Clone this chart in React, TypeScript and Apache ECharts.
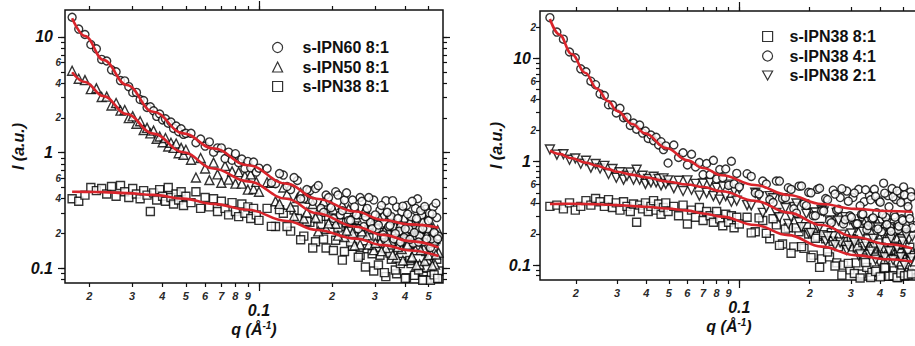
import React, { useEffect, useRef } from 'react';
import * as echarts from 'echarts';

const FONT = '"Liberation Sans", Arial, Helvetica, sans-serif';

// ---------- data: left panel (8:1 series) ----------
const LEFT_Q = [
  0.0170, 0.0181, 0.0192, 0.0203, 0.0214, 0.0225, 0.0236, 0.0247, 0.0258, 0.0269, 0.0280, 0.0291, 0.0302, 0.0313, 0.0324, 0.0335,
  0.0346, 0.0357, 0.0368, 0.0379, 0.0390, 0.0401, 0.0412, 0.0423, 0.0434, 0.0445, 0.0456, 0.0467, 0.0478, 0.0489, 0.0500,
  0.0525, 0.0550, 0.0575, 0.0600, 0.0625, 0.0650, 0.0675, 0.0700, 0.0725, 0.0750, 0.0775, 0.0800, 0.0825, 0.0850, 0.0875,
  0.0900, 0.0925, 0.0950, 0.0975, 0.1000,
  0.108, 0.117, 0.126, 0.135, 0.144, 0.153, 0.162, 0.171, 0.180, 0.189, 0.198, 0.207, 0.216, 0.225, 0.234, 0.243, 0.252,
  0.261, 0.270, 0.279, 0.288, 0.297, 0.306, 0.315, 0.324, 0.333, 0.342, 0.351, 0.360, 0.369, 0.378, 0.387, 0.396, 0.405,
  0.414, 0.423, 0.432, 0.441, 0.450, 0.459, 0.468, 0.477, 0.486, 0.495, 0.504, 0.513, 0.522, 0.531, 0.540, 0.549,
  // intermediate q points of the high-q range
  0.1125, 0.1215, 0.1305, 0.1395, 0.1485, 0.1575, 0.1665, 0.1755, 0.1845, 0.1935, 0.2025, 0.2115, 0.2205, 0.2295, 0.2385,
  0.2475, 0.2565, 0.2655, 0.2745, 0.2835, 0.2925, 0.3015, 0.3105, 0.3195, 0.3285, 0.3375, 0.3465, 0.3555, 0.3645, 0.3735,
  0.3825, 0.3915, 0.4005, 0.4095, 0.4185, 0.4275, 0.4365, 0.4455, 0.4545, 0.4635, 0.4725, 0.4815, 0.4905, 0.4995, 0.5085,
  0.5175, 0.5265, 0.5355, 0.5445,
];
const L60 = [
  14.8, 11.7, 10.5, 8.6, 7.9, 6.4, 6.2, 5.2, 5.0, 4.2, 4.17, 3.72, 3.31, 3.32, 2.88, 2.82, 2.46, 2.49, 2.30, 2.06, 2.16,
  1.92, 1.96, 1.80, 1.84, 1.62, 1.70, 1.52, 1.61, 1.44, 1.47,
  1.47, 1.22, 1.31, 1.14, 1.24, 1.01, 1.10, 1.10, 0.89, 1.01, 0.86, 0.98, 0.82, 0.88, 0.73, 0.84, 0.74, 0.83, 0.68, 0.735,
  0.73, 0.54, 0.64, 0.48, 0.575, 0.40, 0.47, 0.49, 0.33, 0.43, 0.335, 0.46, 0.29, 0.39, 0.26, 0.39, 0.29, 0.41, 0.23, 0.33,
  0.25, 0.39, 0.22, 0.32, 0.195, 0.385, 0.23, 0.28, 0.18, 0.34, 0.21, 0.31, 0.185, 0.35, 0.22, 0.28, 0.165, 0.33, 0.40, 0.19,
  0.29, 0.17, 0.325, 0.22, 0.30, 0.18, 0.34, 0.20, 0.275, 0.19,
  0.55, 0.66, 0.51, 0.61, 0.40, 0.48, 0.38, 0.52, 0.305, 0.41, 0.27, 0.43, 0.315, 0.45, 0.26, 0.34, 0.22, 0.38, 0.28, 0.41,
  0.22, 0.29, 0.237, 0.35, 0.183, 0.305, 0.235, 0.385, 0.20, 0.27, 0.169, 0.345, 0.22, 0.295, 0.178, 0.38, 0.204, 0.27,
  0.169, 0.316, 0.221, 0.343, 0.18, 0.258, 0.151, 0.296, 0.204, 0.366, 0.18,
];
const L50 = [
  5.1, 4.35, 4.24, 3.54, 3.6, 3.03, 3.05, 2.56, 2.69, 2.31, 2.34, 1.99, 2.06, 1.78, 1.87, 1.57, 1.64, 1.47, 1.55, 1.32, 1.38,
  1.23, 1.34, 1.13, 1.22, 1.10, 1.20, 0.99, 1.10, 0.96, 1.06,
  0.87, 0.61, 0.90, 0.73, 0.58, 0.82, 0.65, 0.55, 0.77, 0.585, 0.69, 0.54, 0.68, 0.54, 0.63, 0.48, 0.65, 0.485, 0.56, 0.46,
  0.555, 0.38, 0.50, 0.34, 0.405, 0.27, 0.40, 0.275, 0.345, 0.22, 0.355, 0.243, 0.295, 0.187, 0.327, 0.203, 0.276, 0.161,
  0.307, 0.193, 0.255, 0.144, 0.265, 0.167, 0.29, 0.15, 0.238, 0.173, 0.26, 0.124, 0.214, 0.147, 0.274, 0.158, 0.221, 0.123,
  0.24, 0.144, 0.199, 0.108, 0.22, 0.148, 0.256, 0.119, 0.181, 0.133, 0.225, 0.108, 0.191, 0.137,
  0.549, 0.361, 0.44, 0.284, 0.449, 0.305, 0.36, 0.209, 0.379, 0.245, 0.323, 0.192, 0.354, 0.212, 0.268, 0.158, 0.295,
  0.209, 0.326, 0.161, 0.24, 0.166, 0.283, 0.141, 0.21, 0.173, 0.293, 0.131, 0.231, 0.153, 0.245, 0.117, 0.211, 0.16,
  0.255, 0.126, 0.186, 0.107, 0.228, 0.144, 0.256, 0.116, 0.195, 0.13, 0.228, 0.106, 0.174, 0.132, 0.214,
];
const L38 = [
  0.40, 0.38, 0.43, 0.50, 0.47, 0.49, 0.44, 0.51, 0.42, 0.52, 0.46, 0.41, 0.49, 0.44, 0.40, 0.47, 0.43, 0.31, 0.45, 0.39,
  0.48, 0.42, 0.38, 0.50, 0.41, 0.36, 0.44, 0.39, 0.46, 0.35, 0.42,
  0.37, 0.46, 0.33, 0.41, 0.34, 0.40, 0.31, 0.38, 0.33, 0.29, 0.37, 0.31, 0.28, 0.36, 0.30, 0.34, 0.27, 0.33, 0.29, 0.26,
  0.33, 0.23, 0.30, 0.21, 0.27, 0.19, 0.25, 0.17, 0.24, 0.15, 0.22, 0.175, 0.23, 0.14, 0.21, 0.155, 0.22, 0.13, 0.20, 0.148,
  0.23, 0.095, 0.19, 0.13, 0.205, 0.085, 0.175, 0.12, 0.19, 0.09, 0.165, 0.115, 0.20, 0.083, 0.16, 0.11, 0.185, 0.088, 0.15,
  0.105, 0.17, 0.08, 0.14, 0.10, 0.175, 0.09, 0.145, 0.082, 0.12, 0.095,
  0.231, 0.322, 0.23, 0.32, 0.177, 0.255, 0.15, 0.268, 0.179, 0.282, 0.143, 0.224, 0.118, 0.248, 0.169, 0.262, 0.125,
  0.193, 0.103, 0.216, 0.134, 0.233, 0.107, 0.189, 0.092, 0.211, 0.136, 0.23, 0.097, 0.18, 0.11, 0.206, 0.082, 0.166,
  0.117, 0.209, 0.087, 0.172, 0.097, 0.186, 0.079, 0.159, 0.102, 0.192, 0.079, 0.165, 0.088, 0.178, 0.082,
];
const FIT_QL = [0.017, 0.0192, 0.0229, 0.0285, 0.0367, 0.0488, 0.0648, 0.09, 0.13, 0.173, 0.25, 0.325, 0.42, 0.549];
const FIT_L60 = [14.5, 10.2, 6.33, 3.85, 2.26, 1.47, 1.09, 0.78, 0.54, 0.40, 0.31, 0.262, 0.24, 0.225];
const FIT_L50 = [4.95, 4.08, 3.08, 2.16, 1.46, 1.01, 0.73, 0.565, 0.40, 0.30, 0.229, 0.195, 0.172, 0.152];
const FIT_L38 = [0.46, 0.459, 0.456, 0.447, 0.432, 0.401, 0.361, 0.321, 0.257, 0.215, 0.181, 0.159, 0.143, 0.128];

// ---------- data: right panel (s-IPN38 series) ----------
const RIGHT_Q = [
  0.0155, 0.0166, 0.0177, 0.0188, 0.0199, 0.0210, 0.0221, 0.0232, 0.0243, 0.0254, 0.0265, 0.0276, 0.0287, 0.0298, 0.0309,
  0.0320, 0.0331, 0.0342, 0.0353, 0.0364, 0.0375, 0.0386, 0.0397, 0.0408, 0.0419, 0.0430, 0.0441, 0.0452, 0.0463, 0.0474,
  0.0485, 0.0496,
  0.0525, 0.0550, 0.0575, 0.0600, 0.0625, 0.0650, 0.0675, 0.0700, 0.0725, 0.0750, 0.0775, 0.0800, 0.0825, 0.0850, 0.0875,
  0.0900, 0.0925, 0.0950, 0.0975, 0.1000,
  0.108, 0.117, 0.126, 0.135, 0.144, 0.153, 0.162, 0.171, 0.180, 0.189, 0.198, 0.207, 0.216, 0.225, 0.234, 0.243, 0.252,
  0.261, 0.270, 0.279, 0.288, 0.297, 0.306, 0.315, 0.324, 0.333, 0.342, 0.351, 0.360, 0.369, 0.378, 0.387, 0.396, 0.405,
  0.414, 0.423, 0.432, 0.441, 0.450, 0.459, 0.468, 0.477, 0.486, 0.495, 0.504, 0.513, 0.522, 0.531, 0.540, 0.549,
  // intermediate q points of the high-q range
  0.1125, 0.1215, 0.1305, 0.1395, 0.1485, 0.1575, 0.1665, 0.1755, 0.1845, 0.1935, 0.2025, 0.2115, 0.2205, 0.2295, 0.2385,
  0.2475, 0.2565, 0.2655, 0.2745, 0.2835, 0.2925, 0.3015, 0.3105, 0.3195, 0.3285, 0.3375, 0.3465, 0.3555, 0.3645, 0.3735,
  0.3825, 0.3915, 0.4005, 0.4095, 0.4185, 0.4275, 0.4365, 0.4455, 0.4545, 0.4635, 0.4725, 0.4815, 0.4905, 0.4995, 0.5085,
  0.5175, 0.5265, 0.5355, 0.5445,
];
const R41 = [
  24.7, 17.9, 15.3, 11.5, 10.1, 7.9, 7.4, 6.0, 5.55, 4.52, 4.36, 3.55, 3.53, 2.96, 3.28, 2.66, 2.69, 2.24, 2.36, 2.06,
  2.26, 1.89, 1.98, 1.68, 1.81, 1.60, 1.72, 1.45, 1.56, 1.31, 1.42, 0.97,
  1.45, 1.10, 1.22, 0.93, 1.18, 0.89, 0.98, 0.75, 0.96, 0.75, 1.03, 0.68, 0.84, 0.70, 0.85, 0.59, 1.01, 0.61, 0.77, 0.57,
  0.765, 0.50, 0.65, 0.43, 0.65, 0.44, 0.56, 0.35, 0.58, 0.39, 0.505, 0.30, 0.54, 0.335, 0.44, 0.27, 0.53, 0.34, 0.45, 0.25,
  0.52, 0.30, 0.45, 0.25, 0.54, 0.31, 0.41, 0.22, 0.47, 0.28, 0.54, 0.32, 0.42, 0.21, 0.62, 0.29, 0.47, 0.23, 0.55, 0.305,
  0.43, 0.22, 0.495, 0.28, 0.57, 0.245, 0.41, 0.31, 0.51, 0.23,
  0.72, 0.487, 0.608, 0.402, 0.649, 0.448, 0.539, 0.318, 0.582, 0.377, 0.50, 0.30, 0.553, 0.334, 0.429, 0.257, 0.486, 0.347,
  0.548, 0.275, 0.415, 0.29, 0.498, 0.251, 0.375, 0.311, 0.535, 0.241, 0.428, 0.286, 0.462, 0.224, 0.406, 0.31, 0.496,
  0.247, 0.366, 0.212, 0.457, 0.291, 0.521, 0.238, 0.403, 0.271, 0.477, 0.224, 0.368, 0.282, 0.459,
];
const R21 = [
  1.31, 1.17, 1.18, 1.045, 1.075, 0.955, 1.02, 0.875, 0.95, 0.86, 0.91, 0.76, 0.85, 0.70, 0.79, 0.67, 0.73, 0.785, 0.67,
  0.835, 0.67, 0.73, 0.61, 0.68, 0.63, 0.715, 0.63, 0.68, 0.59, 0.69, 0.61, 0.66,
  0.555, 0.655, 0.52, 0.66, 0.535, 0.61, 0.47, 0.615, 0.50, 0.63, 0.465, 0.56, 0.43, 0.575, 0.465, 0.60, 0.41, 0.525, 0.42,
  0.545,
  0.38, 0.50, 0.32, 0.465, 0.32, 0.44, 0.25, 0.365, 0.26, 0.385, 0.205, 0.32, 0.233, 0.34, 0.17, 0.27, 0.19, 0.32, 0.166,
  0.26, 0.14, 0.275, 0.175, 0.227, 0.124, 0.277, 0.15, 0.225, 0.126, 0.244, 0.15, 0.198, 0.108, 0.262, 0.142, 0.208, 0.114,
  0.232, 0.144, 0.194, 0.105, 0.214, 0.129, 0.178, 0.105, 0.226, 0.133, 0.176, 0.108, 0.189,
  0.378, 0.462, 0.364, 0.443, 0.29, 0.356, 0.291, 0.394, 0.233, 0.314, 0.204, 0.323, 0.234, 0.331, 0.189, 0.246, 0.156,
  0.269, 0.197, 0.291, 0.154, 0.202, 0.165, 0.244, 0.127, 0.21, 0.161, 0.261, 0.135, 0.18, 0.113, 0.231, 0.147, 0.198,
  0.119, 0.254, 0.136, 0.181, 0.112, 0.209, 0.146, 0.226, 0.119, 0.169, 0.099, 0.194, 0.133, 0.238, 0.117,
];
const R81 = [
  0.37, 0.38, 0.35, 0.40, 0.34, 0.37, 0.42, 0.38, 0.44, 0.41, 0.37, 0.43, 0.36, 0.40, 0.34, 0.41, 0.37, 0.33, 0.39, 0.26,
  0.38, 0.35, 0.40, 0.33, 0.37, 0.42, 0.34, 0.39, 0.31, 0.36, 0.40, 0.33,
  0.37, 0.30, 0.38, 0.25, 0.34, 0.29, 0.36, 0.27, 0.33, 0.30, 0.26, 0.33, 0.28, 0.24, 0.31, 0.26, 0.30, 0.23, 0.29, 0.25,
  0.29, 0.21, 0.27, 0.18, 0.245, 0.16, 0.23, 0.15, 0.21, 0.145, 0.20, 0.125, 0.19, 0.115, 0.18, 0.12, 0.17, 0.105, 0.165,
  0.10, 0.16, 0.09, 0.15, 0.105, 0.16, 0.082, 0.14, 0.095, 0.155, 0.085, 0.135, 0.09, 0.15, 0.078, 0.13, 0.095, 0.145, 0.08,
  0.125, 0.088, 0.14, 0.076, 0.12, 0.09, 0.135, 0.08, 0.115, 0.085, 0.13, 0.09,
  0.205, 0.286, 0.203, 0.281, 0.155, 0.223, 0.13, 0.229, 0.151, 0.235, 0.118, 0.182, 0.095, 0.197, 0.134, 0.206, 0.098,
  0.151, 0.08, 0.169, 0.104, 0.18, 0.083, 0.146, 0.075, 0.165, 0.106, 0.18, 0.076, 0.143, 0.087, 0.164, 0.077, 0.133,
  0.094, 0.169, 0.078, 0.14, 0.079, 0.152, 0.076, 0.131, 0.084, 0.158, 0.079, 0.137, 0.08, 0.149, 0.082,
];
const FIT_QR = [0.0155, 0.017, 0.0192, 0.022, 0.0246, 0.0275, 0.030, 0.035, 0.0395, 0.049, 0.06, 0.07, 0.0841, 0.1167, 0.162, 0.225, 0.312, 0.43, 0.549];
const FIT_R41 = [24.0, 17.0, 11.0, 7.2, 5.1, 3.85, 3.1, 2.3, 1.88, 1.35, 1.03, 0.87, 0.74, 0.595, 0.477, 0.39, 0.35, 0.333, 0.328];
const FIT_R21 = [1.28, 1.19, 1.08, 0.98, 0.913, 0.847, 0.798, 0.746, 0.708, 0.644, 0.601, 0.569, 0.517, 0.418, 0.322, 0.244, 0.187, 0.159, 0.145];
const FIT_R81 = [0.39, 0.391, 0.392, 0.39, 0.388, 0.383, 0.38, 0.373, 0.367, 0.353, 0.336, 0.316, 0.294, 0.244, 0.195, 0.151, 0.125, 0.114, 0.108];

// ---------- ticks / labels ----------
const X_TICKS = [0.02, 0.03, 0.04, 0.05, 0.06, 0.07, 0.08, 0.09, 0.1, 0.2, 0.3, 0.4, 0.5];
const X_LABELS = ['2', '3', '4', '5', '6', '7', '8', '9', '0.1', '2', '3', '4', '5'];
const X_MAJOR = [0.1];
const Y_TICKS = [0.08, 0.09, 0.1, 0.2, 0.3, 0.4, 0.5, 0.6, 0.7, 0.8, 0.9, 1, 2, 3, 4, 5, 6, 7, 8, 9, 10, 20];
const Y_LABEL_VALUES = [0.1, 0.2, 0.4, 0.6, 1, 2, 4, 6, 10, 20];
const Y_LABELS = ['0.1', '2', '4', '6', '1', '2', '4', '6', '10', '2'];
const Y_MAJOR = [0.1, 1, 10];

const LEGEND_LEFT = ['s-IPN60 8:1', 's-IPN50 8:1', 's-IPN38 8:1'];
const LEGEND_RIGHT = ['s-IPN38 8:1', 's-IPN38 4:1', 's-IPN38 2:1'];
const X_NAME = 'q (Å{sup|-1})';
const Y_NAME = 'I (a.u.)';

const DOWN_TRI = 'path://M0,0 L10,0 L5,9 Z';
const RED = '#d9242b';
const INK = '#111111';

const near = (a: number, b: number) => Math.abs(Math.log10(a / b)) < 0.002;
const lookup = (vals: number[], labels: string[], v: number) => {
  for (let i = 0; i < vals.length; i++) if (near(vals[i], v)) return labels[i];
  return '';
};
const zip = (xs: number[], ys: number[]) => xs.map((x, i) => [x, ys[i]]);

const tickStyle = { color: INK, width: 1.2 };
const nameStyle = { fontFamily: FONT, fontSize: 16, fontWeight: 'bold', fontStyle: 'italic', color: INK };

function xAxes(grid: number, min: number, max: number) {
  const base = {
    type: 'log', logBase: 10, gridIndex: grid, min, max,
    splitLine: { show: false }, minorTick: { show: false }, minorSplitLine: { show: false },
    axisLine: { show: false, onZero: false }, nameMoveOverlap: false,
  };
  const off = { show: false };
  return [
    {
      ...base, position: 'bottom',
      axisTick: { show: true, inside: false, length: 4, lineStyle: tickStyle, customValues: X_TICKS },
      axisLabel: {
        show: true, margin: 7, customValues: X_TICKS, hideOverlap: false,
        formatter: (v: number) => {
          const t = lookup(X_TICKS, X_LABELS, v);
          return t === '0.1' ? `{big|${t}}` : `{d|${t}}`;
        },
        rich: {
          d: { fontFamily: FONT, fontSize: 11, fontWeight: 'bold', fontStyle: 'italic', color: '#2a2a2a' },
          big: { fontFamily: FONT, fontSize: 16, fontWeight: 'bold', fontStyle: 'italic', color: INK, padding: [12, 0, 0, 0] },
        },
      },
      name: X_NAME, nameLocation: 'middle', nameGap: 37,
      nameTextStyle: { ...nameStyle, rich: { sup: { ...nameStyle, fontSize: 10, padding: [0, 0, 9, 0] } } },
    },
    { ...base, position: 'bottom', axisTick: { show: true, length: 8, lineStyle: tickStyle, customValues: X_MAJOR }, axisLabel: off },
    { ...base, position: 'top', axisTick: { show: true, length: 4, lineStyle: tickStyle, customValues: X_TICKS }, axisLabel: off },
    { ...base, position: 'top', axisTick: { show: true, length: 9, lineStyle: tickStyle, customValues: X_MAJOR }, axisLabel: off },
  ];
}

function yAxes(grid: number, min: number, max: number, gap: number, bigPad: number) {
  const base = {
    type: 'log', logBase: 10, gridIndex: grid, min, max,
    splitLine: { show: false }, minorTick: { show: false }, minorSplitLine: { show: false },
    axisLine: { show: false, onZero: false }, nameMoveOverlap: false,
  };
  const off = { show: false };
  return [
    {
      ...base, position: 'left',
      axisTick: { show: true, inside: false, length: 4, lineStyle: tickStyle, customValues: Y_TICKS },
      axisLabel: {
        show: true, margin: 4, customValues: Y_LABEL_VALUES, hideOverlap: false,
        formatter: (v: number) => {
          const t = lookup(Y_LABEL_VALUES, Y_LABELS, v);
          const major = Y_MAJOR.some((m) => near(m, v));
          return major ? `{big|${t}}` : `{s|${t}}`;
        },
        rich: {
          s: { fontFamily: FONT, fontSize: 10, fontWeight: 'bold', fontStyle: 'italic', color: '#2a2a2a' },
          big: { fontFamily: FONT, fontSize: 16, fontWeight: 'bold', fontStyle: 'italic', color: INK, padding: [0, bigPad, 0, 0] },
        },
      },
      name: Y_NAME, nameLocation: 'middle', nameGap: gap, nameRotate: 90,
      nameTextStyle: nameStyle,
    },
    { ...base, position: 'left', axisTick: { show: true, length: 7, lineStyle: tickStyle, customValues: Y_MAJOR }, axisLabel: off },
    { ...base, position: 'right', axisTick: { show: true, length: 4, lineStyle: tickStyle, customValues: Y_TICKS }, axisLabel: off },
    { ...base, position: 'right', axisTick: { show: true, length: 7, lineStyle: tickStyle, customValues: Y_MAJOR }, axisLabel: off },
  ];
}

const markerStyle = { color: '#ffffff', borderColor: '#000000', borderWidth: 1.4 };

function scatter(name: string, axis: number, symbol: string, size: number, xs: number[], ys: number[]) {
  return {
    type: 'scatter', name, xAxisIndex: axis, yAxisIndex: axis, symbol, symbolSize: size,
    data: zip(xs, ys), itemStyle: markerStyle, silent: true, z: 2,
    emphasis: { disabled: true },
  };
}
function fit(axis: number, xs: number[], ys: number[]) {
  return {
    type: 'line', xAxisIndex: axis, yAxisIndex: axis, data: zip(xs, ys),
    smooth: 0.4, smoothMonotone: 'x', symbol: 'none', silent: true, z: 5,
    lineStyle: { color: RED, width: 2.6 },
  };
}

function legend(left: number, top: number, names: string[], icons: string[], textGap: number) {
  return {
    show: true, orient: 'vertical', left, top, padding: 0, itemWidth: 10, itemHeight: 10, itemGap: 2.5,
    selectedMode: false,
    data: names.map((n, i) => ({ name: n, icon: icons[i] })),
    itemStyle: { color: '#ffffff', borderColor: '#000000', borderWidth: 1.2 },
    textStyle: { fontFamily: FONT, fontSize: 16, fontWeight: 'bold', color: INK, lineHeight: 17, padding: [0, 0, 0, textGap] },
  };
}

export default function App() {
  const ref = useRef<HTMLDivElement>(null);
  useEffect(() => {
    if (!ref.current) return;
    const chart = echarts.init(ref.current, null, { renderer: 'svg' });
    const gridBase = {
      show: true, borderColor: INK, borderWidth: 1.5, backgroundColor: 'transparent',
      containLabel: false, outerBoundsMode: 'none',
    };
    chart.setOption({
      animation: false,
      backgroundColor: '#ffffff',
      textStyle: { fontFamily: FONT },
      grid: [
        { ...gridBase, left: 65, top: 10, width: 378, height: 273 },
        { ...gridBase, left: 540, top: 11, width: 378, height: 269 },
      ],
      xAxis: [...xAxes(0, 0.01589, 0.5728), ...xAxes(1, 0.01406, 0.5808)],
      yAxis: [...yAxes(0, 0.07482, 17.1, 39, 8), ...yAxes(1, 0.07178, 28.64, 36, 5)],
      legend: [
        legend(272, 39, LEGEND_LEFT, ['circle', 'triangle', 'rect'], 15),
        legend(762, 28, LEGEND_RIGHT, ['rect', 'circle', DOWN_TRI], 12),
      ],
      series: [
        scatter('s-IPN38 8:1', 0, 'rect', 8, LEFT_Q, L38),
        scatter('s-IPN50 8:1', 0, 'triangle', 9, LEFT_Q, L50),
        scatter('s-IPN60 8:1', 0, 'circle', 8, LEFT_Q, L60),
        fit(0, FIT_QL, FIT_L60),
        fit(0, FIT_QL, FIT_L50),
        fit(0, FIT_QL, FIT_L38),
        scatter('s-IPN38 8:1', 4, 'rect', 8, RIGHT_Q, R81),
        scatter('s-IPN38 2:1', 4, DOWN_TRI, 9, RIGHT_Q, R21),
        scatter('s-IPN38 4:1', 4, 'circle', 8, RIGHT_Q, R41),
        fit(4, FIT_QR, FIT_R41),
        fit(4, FIT_QR, FIT_R21),
        fit(4, FIT_QR, FIT_R81),
      ],
    });
    return () => chart.dispose();
  }, []);
  return <div ref={ref} style={{ position: 'absolute', left: 0, top: 0, width: 915, height: 346 }} />;
}
